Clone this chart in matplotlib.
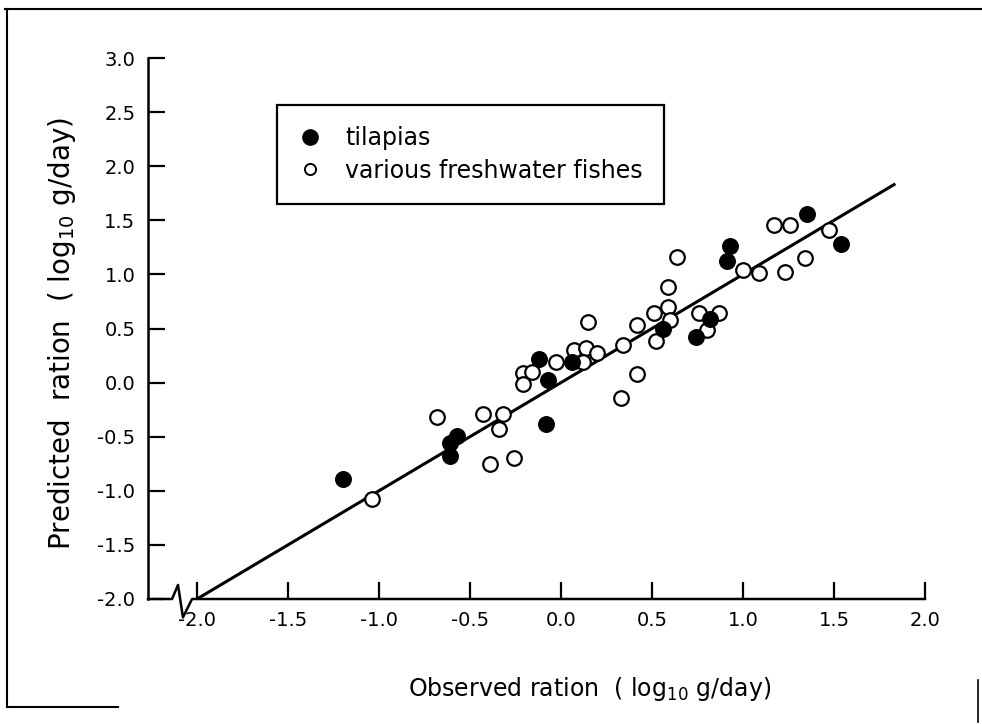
import matplotlib
matplotlib.use("Agg")
import matplotlib.pyplot as plt
from matplotlib.lines import Line2D

plt.rcParams['font.family'] = ['DejaVu Sans']
plt.rcParams['axes.unicode_minus'] = False
plt.rcParams['mathtext.default'] = 'regular'

# tilapias (filled)
til_obs = [-1.20, -0.61, -0.57, -0.61, -0.08, -0.12, -0.07, 0.06, 0.56, 0.82, 0.74, 0.93, 0.91, 1.35, 1.54]
til_pred = [-0.89, -0.56, -0.49, -0.68, -0.38, 0.22, 0.02, 0.19, 0.50, 0.59, 0.42, 1.26, 1.12, 1.56, 1.28]

# various freshwater fishes (open)
fw_obs = [-1.04, -0.68, -0.43, -0.32, -0.34, -0.39, -0.26, -0.21, -0.16, -0.21, -0.03, 0.07,
          0.14, 0.12, 0.20, 0.15, 0.34, 0.42, 0.33, 0.42, 0.51, 0.52, 0.59, 0.59, 0.60, 0.64,
          0.76, 0.87, 0.80, 1.00, 1.09, 1.23, 1.34, 1.17, 1.26, 1.47]
fw_pred = [-1.08, -0.32, -0.29, -0.29, -0.43, -0.75, -0.70, 0.09, 0.10, -0.01, 0.19, 0.30,
           0.32, 0.19, 0.27, 0.56, 0.35, 0.08, -0.14, 0.53, 0.64, 0.38, 0.88, 0.70, 0.58, 1.16,
           0.64, 0.64, 0.49, 1.04, 1.01, 1.02, 1.15, 1.46, 1.46, 1.41]

# 1:1 line
line_x = [-2.0, 1.83]
line_y = [-2.0, 1.83]

xticks = [-2.0, -1.5, -1.0, -0.5, 0.0, 0.5, 1.0, 1.5, 2.0]
yticks = [-2.0, -1.5, -1.0, -0.5, 0.0, 0.5, 1.0, 1.5, 2.0, 2.5, 3.0]

fig = plt.figure(figsize=(9.82, 7.24), dpi=100)
ax = fig.add_axes([148 / 982, 125 / 724, 777 / 982, 541 / 724])

ax.plot(line_x, line_y, color='black', lw=2.2, zorder=2)
ax.scatter(fw_obs, fw_pred, s=110, facecolors='white', edgecolors='black', linewidths=1.6, zorder=3)
ax.scatter(til_obs, til_pred, s=125, color='black', zorder=4)

ax.set_xlim(-2.269, 2.0)
ax.set_ylim(-2.0, 3.0)
ax.set_xticks(xticks)
ax.set_xticklabels(['%.1f' % v for v in xticks])
ax.set_yticks(yticks)
ax.set_yticklabels(['%.1f' % v for v in yticks])
ax.tick_params(direction='in', length=12, width=1.6, labelsize=14, pad=9)

for side in ['top', 'right', 'bottom']:
    ax.spines[side].set_visible(False)
ax.spines['left'].set_linewidth(1.8)

# broken x axis drawn by hand
brk_x = [-2.269, -2.137, -2.104, -2.077, -2.027, 2.0]
brk_y = [-2.0, -2.0, -1.87, -2.17, -2.0, -2.0]
ax.plot(brk_x, brk_y, color='black', lw=1.8, clip_on=False, zorder=5)

ax.set_xlabel('Observed ration  ( log$_{10}$ g/day)', fontsize=17)
ax.xaxis.set_label_coords((590 - 148) / 777, -0.14)
ax.set_ylabel('Predicted  ration  ( log$_{10}$ g/day)', fontsize=20)
ax.yaxis.set_label_coords(-0.09, 0.49)

handles = [
    Line2D([], [], marker='o', ls='', color='black', markersize=11),
    Line2D([], [], marker='o', ls='', markerfacecolor='white', markeredgecolor='black',
           markeredgewidth=1.4, markersize=8),
]
leg = ax.legend(handles, ['tilapias', 'various freshwater fishes'],
                loc='upper left', bbox_to_anchor=(277 / 982, 1 - 105 / 724),
                bbox_transform=fig.transFigure, borderaxespad=0, fontsize=17,
                fancybox=False, frameon=True, edgecolor='black', framealpha=1,
                handlelength=0.96, handletextpad=1.04, borderpad=0.9, labelspacing=0.35)
leg.get_frame().set_linewidth(1.6)

# scanned page border
fig.add_artist(Line2D([0.005, 1.0], [1 - 9 / 724, 1 - 9 / 724], color='black', lw=1.5))
fig.add_artist(Line2D([7 / 982, 7 / 982], [1 - 9 / 724, 1 - 707 / 724], color='black', lw=1.5))
fig.add_artist(Line2D([7 / 982, 118 / 982], [1 - 707 / 724, 1 - 707 / 724], color='black', lw=1.5))
fig.add_artist(Line2D([978 / 982, 978 / 982], [1 - 680 / 724, 1 - 722 / 724], color='black', lw=1.2))

fig.savefig('out.png', dpi=100)
